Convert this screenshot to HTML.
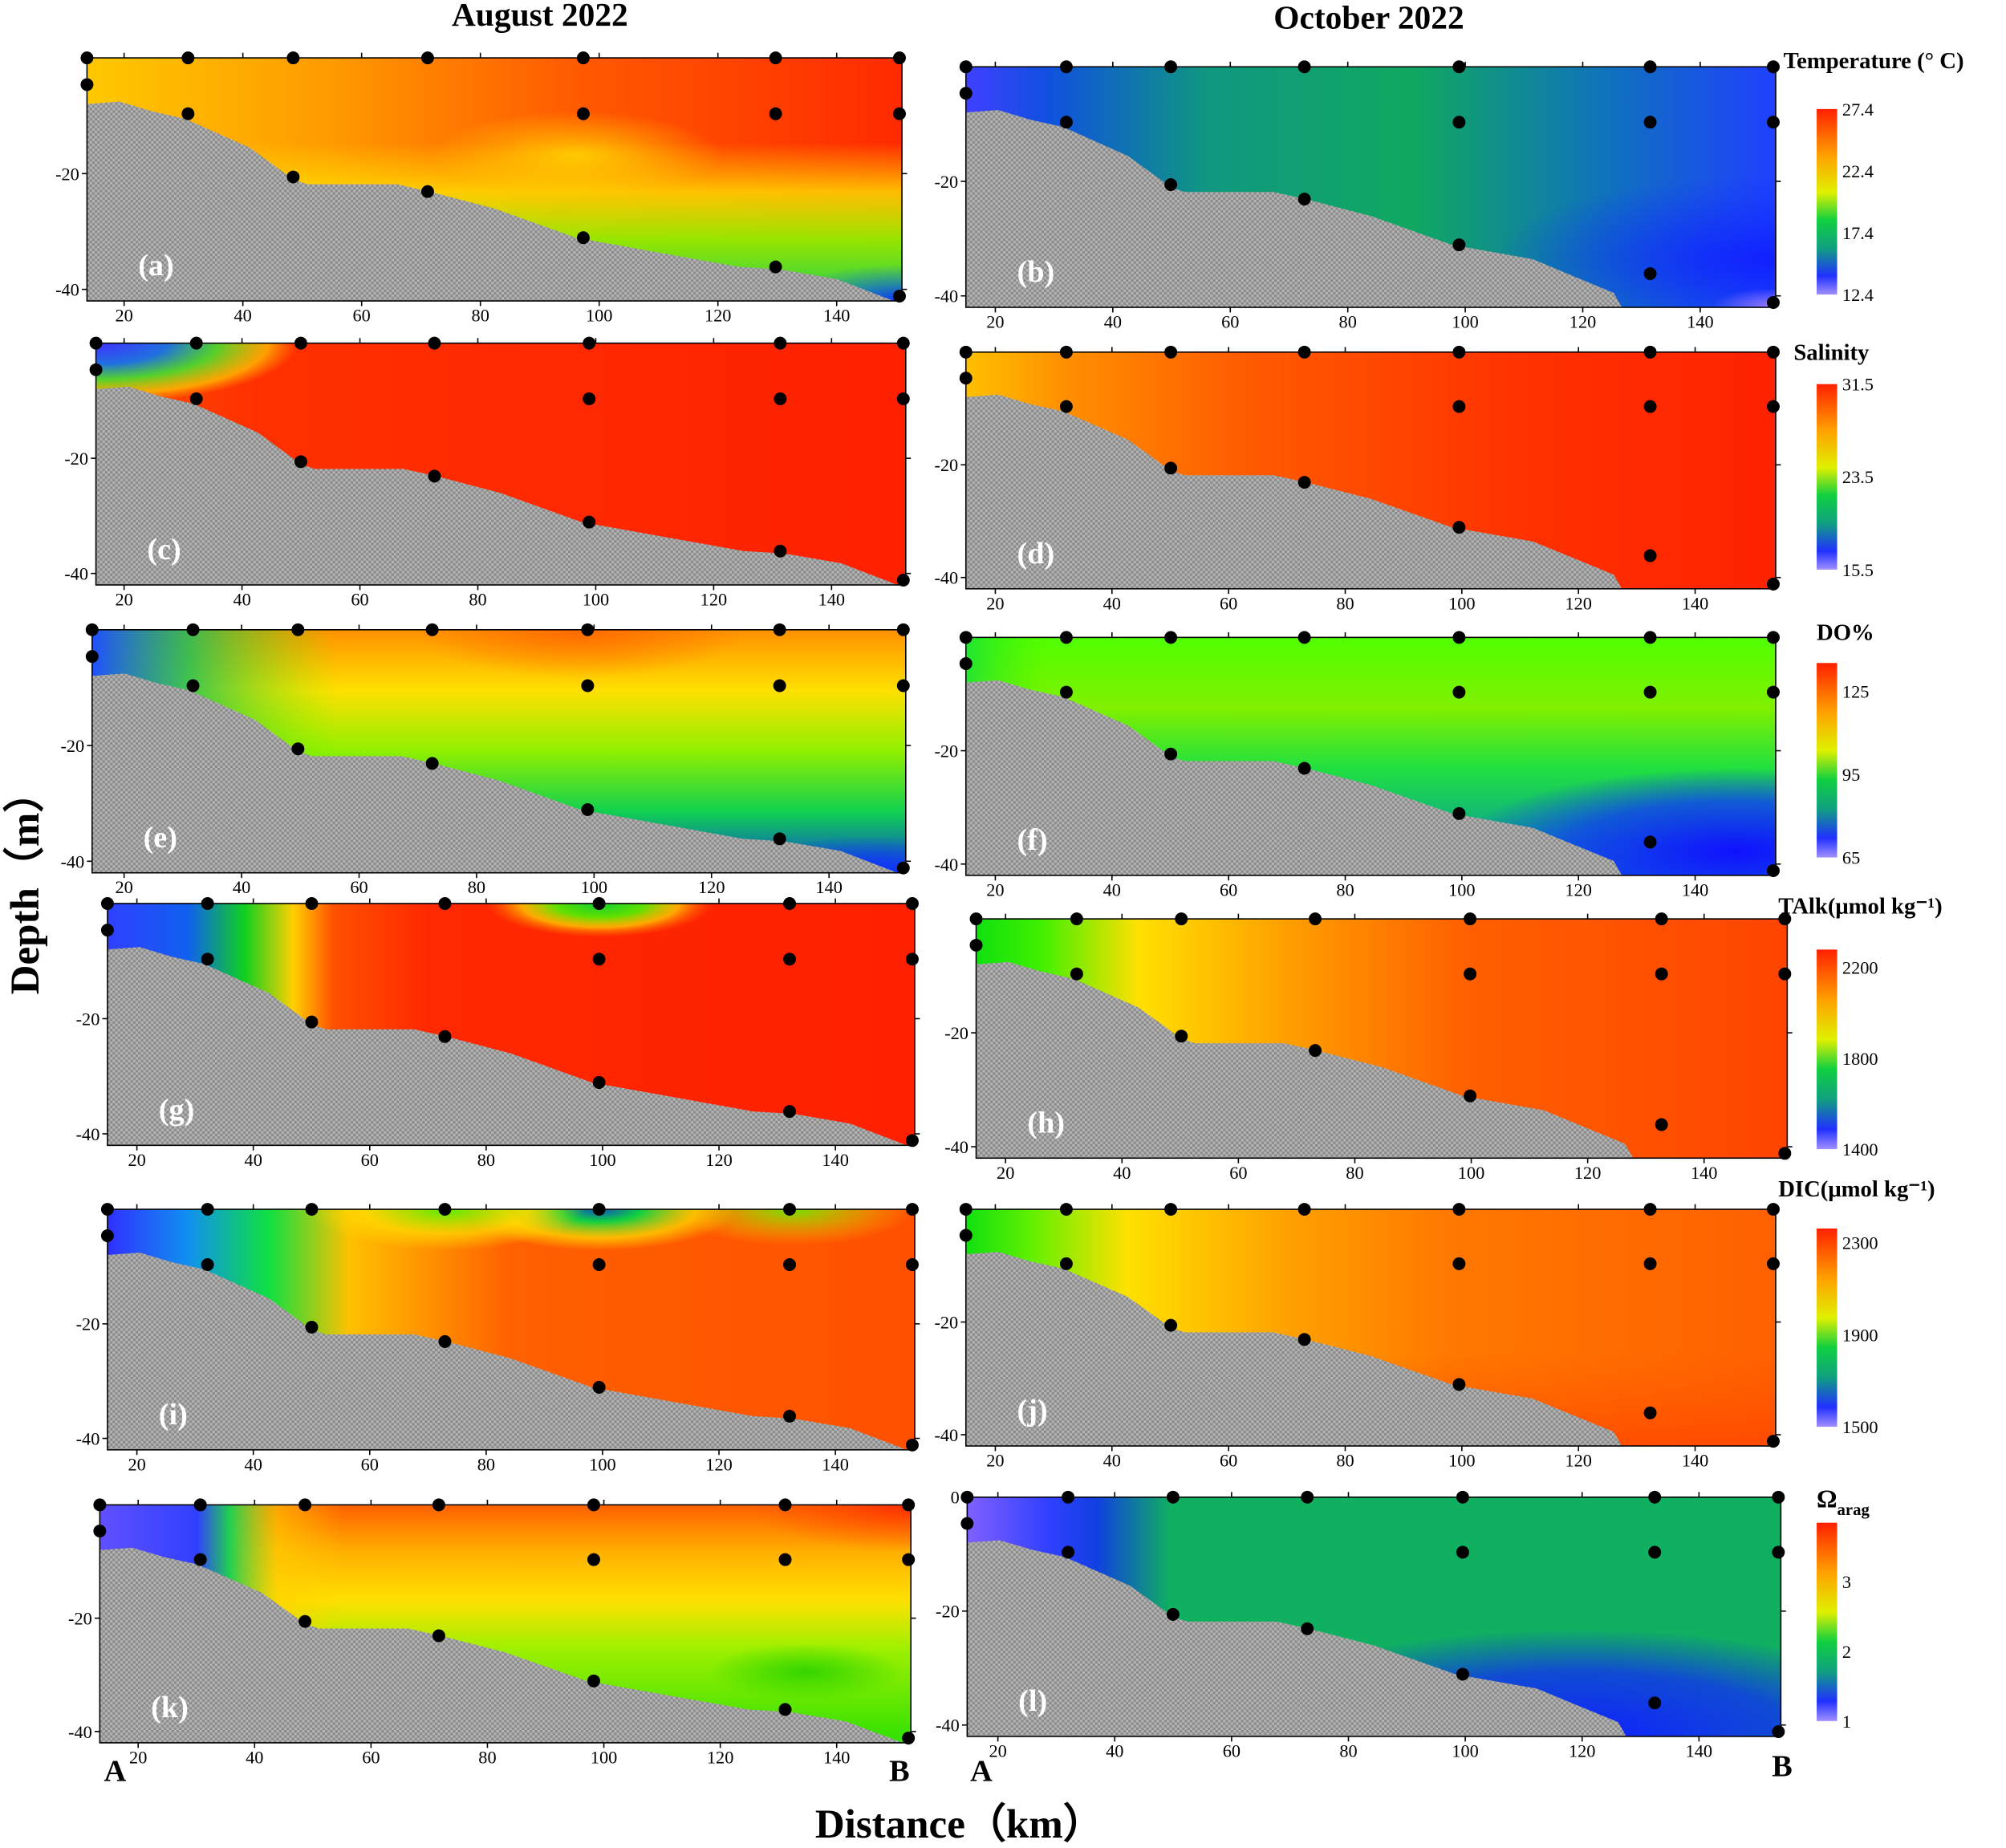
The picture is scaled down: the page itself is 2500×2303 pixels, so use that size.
<!DOCTYPE html>
<html><head><meta charset="utf-8">
<style>html,body{margin:0;padding:0;background:#fff;}svg{display:block}</style>
</head><body>
<svg id="s" xmlns="http://www.w3.org/2000/svg" width="2500" height="2303" viewBox="0 0 1568 1444" font-family="Liberation Serif, serif">
<defs>
<pattern id="gp" width="4" height="4" patternUnits="userSpaceOnUse"><rect width="4" height="4" fill="#8a8a8a"/><rect width="2" height="2" fill="#b4b4b4"/><rect x="2" y="2" width="2" height="2" fill="#b4b4b4"/></pattern>
</defs>
<g id="g"></g>
</svg>
<script>
const NS="http://www.w3.org/2000/svg";
const svg=document.getElementById('s'),defs=svg.querySelector('defs'),G=document.getElementById('g');
function el(t,a,p){const e=document.createElementNS(NS,t);for(const k in a)e.setAttribute(k,a[k]);(p||G).appendChild(e);return e;}
function grad(id,stops,vert,extra){const g=el('linearGradient',Object.assign({id:id,x1:0,y1:0,x2:vert?0:1,y2:vert?1:0},extra||{}),defs);
 stops.forEach(s=>el('stop',{offset:s[0],'stop-color':s[1],'stop-opacity':s[2]===undefined?1:s[2]},g));}
function rgrad(id,cx,cy,r,stops){const g=el('radialGradient',{id:id,cx:cx,cy:cy,r:r},defs);
 stops.forEach(s=>el('stop',{offset:s[0],'stop-color':s[1],'stop-opacity':s[2]===undefined?1:s[2]},g));}
const P=[
 {l:'a',x0:68,x1:705,y0:45,y1:235,t20:97,t140:654,left:1,L:[['h',[[0,'#ffc800'],[0.3,'#ff9a00'],[0.6,'#ff5a00'],[1,'#ff2a00']]],['v',[[0,'#fff',0],[0.35,'#ffe000',0],[0.55,'#ffe000',0.8],[0.75,'#90ee00',0.95],[1,'#20d050',1]]],['r',0.6,0.4,0.18,[[0,'#ffe000',0.8],[1,'#ffe000',0]]],['r',1,1,0.15,[[0,'#1030ff',1],[1,'#1060f0',0]]]]},
 {l:'b',x0:755,x1:1388,y0:52,y1:240,t20:778,t140:1329,left:0,L:[['h',[[0,'#4040ff'],[0.1,'#1050e0'],[0.3,'#109880'],[0.55,'#10a860'],[0.8,'#1070c0'],[1,'#2040ff']]],['r',0.3,0.85,0.3,[[0,'#10c040',0.9],[1,'#10c040',0]]],['r',1,0.8,0.35,[[0,'#1020ff',1],[1,'#1030ff',0]]],['r',1,1,0.08,[[0,'#a080ff',1],[1,'#a080ff',0]]]]},
 {l:'c',x0:75,x1:708,y0:268,y1:457,t20:97,t140:650,left:1,L:[['h',[[0,'#ff5000'],[0.2,'#ff3000'],[1,'#ff2000']]],['r',0,0,0.25,[[0,'#4030ff',1],[0.35,'#2070e0',1],[0.6,'#40e030',0.9],[0.85,'#ffd000',0.7],[1,'#ffb000',0]]]]},
 {l:'d',x0:755,x1:1388,y0:275,y1:460,t20:778,t140:1325,left:0,L:[['h',[[0,'#ffc000'],[0.12,'#ff9000'],[0.35,'#ff5a00'],[0.7,'#ff3000'],[1,'#ff2200']]]]},
 {l:'e',x0:72,x1:708,y0:492,y1:682,t20:97,t140:648,left:1,L:[['v',[[0,'#ff9000'],[0.25,'#ffe000'],[0.5,'#90f000'],[0.75,'#10d050'],[1,'#1040e0']]],['h',[[0,'#2050ff',1],[0.12,'#10c060',0.8],[0.3,'#60f000',0]]],['r',0.6,0,0.2,[[0,'#ff6000',0.8],[1,'#ff6000',0]]],['r',0.95,1,0.15,[[0,'#1030ff',1],[1,'#1030ff',0]]]]},
 {l:'f',x0:755,x1:1388,y0:498,y1:684,t20:778,t140:1325,left:0,L:[['v',[[0,'#50ff00'],[0.3,'#80f000'],[0.55,'#20e040'],[0.8,'#10b080'],[1,'#1060e0']]],['r',0.95,0.9,0.35,[[0,'#1010ff',1],[0.6,'#1040f0',0.8],[1,'#1040f0',0]]],['h',[[0,'#10e040',0.8],[0.1,'#40f000',0]]]]},
 {l:'g',x0:84,x1:715,y0:706,y1:895,t20:107,t140:653,left:1,L:[['h',[[0,'#3040ff'],[0.1,'#1060f0'],[0.17,'#10d020'],[0.23,'#ffd000'],[0.28,'#ff5000'],[0.4,'#ff2800'],[1,'#ff2000']]],['r',0.61,0,0.14,[[0,'#10d030',1],[0.4,'#60e000',1],[0.7,'#ffe000',0.7],[1,'#ff8000',0]]]]},
 {l:'h',x0:763,x1:1397,y0:718,y1:905,t20:786,t140:1332,left:0,L:[['h',[[0,'#10e010'],[0.08,'#40f000'],[0.2,'#ffe000'],[0.38,'#ffa000'],[0.6,'#ff6000'],[1,'#ff4400']]]]},
 {l:'i',x0:84,x1:715,y0:945,y1:1133,t20:107,t140:653,left:1,L:[['h',[[0,'#3030ff'],[0.1,'#1090f0'],[0.2,'#10e040'],[0.3,'#ffc000'],[0.5,'#ff6000'],[1,'#ff5000']]],['r',0.61,0,0.17,[[0,'#1050c0',1],[0.3,'#10d040',1],[0.7,'#ffe000',0.7],[1,'#ffe000',0]]],['r',0.42,0,0.17,[[0,'#50f000',1],[0.6,'#ffe000',0.7],[1,'#ffe000',0]]],['r',0.85,0,0.15,[[0,'#60f000',0.9],[1,'#ffe000',0]]]]},
 {l:'j',x0:755,x1:1388,y0:945,y1:1130,t20:778,t140:1325,left:0,L:[['h',[[0,'#10e010'],[0.08,'#60f000'],[0.2,'#ffe000'],[0.4,'#ffa000'],[0.6,'#ff7800'],[1,'#ff6000']]],['v',[[0,'#fff',0],[0.6,'#ff5000',0],[1,'#ff4000',0.7]]]]},
 {l:'k',x0:78,x1:712,y0:1176,y1:1362,t20:108,t140:654,left:1,L:[['v',[[0,'#ff6000'],[0.2,'#ffb000'],[0.4,'#ffe000'],[0.6,'#a0f000'],[1,'#30e000']]],['h',[[0,'#6050ff',1],[0.12,'#3040ff',1],[0.16,'#20d050',1],[0.22,'#ffd000',0.6],[0.3,'#ffd000',0]]],['r',0.87,0.7,0.12,[[0,'#20d000',0.8],[1,'#20d000',0]]],['r',1,0,0.2,[[0,'#ff2000',0.8],[1,'#ff4000',0]]]]},
 {l:'l',x0:756,x1:1392,y0:1170,y1:1357,t20:780,t140:1328,left:0,L:[['h',[[0,'#8060ff'],[0.1,'#3040ff'],[0.16,'#1040e0'],[0.25,'#10b060'],[1,'#10b060']]],['r',0.75,1,0.45,[[0,'#1020ff',1],[0.6,'#1040e0',0.9],[1,'#1040e0',0]]]]}
];
const ST=[[0,[0,0.11]],[0.124,[0,0.23]],[0.253,[0,0.49]],[0.418,[0,0.55]],[0.609,[0,0.23,0.74]],[0.845,[0,0.23,0.86]],[0.997,[0,0.23,0.98]]];
const BL=[[0,0.19],[0.04,0.18],[0.08,0.22],[0.12,0.25],[0.2,0.37],[0.253,0.5],[0.27,0.52],[0.38,0.52],[0.42,0.55],[0.5,0.62],[0.6,0.74]];
const BL_L=BL.concat([[0.7,0.8],[0.8,0.86],[0.85,0.87],[0.92,0.91],[0.99,1]]);
const BL_R=BL.concat([[0.7,0.8],[0.75,0.87],[0.8,0.94],[0.81,1]]);
P.forEach(p=>{
 const w=p.x1-p.x0,h=p.y1-p.y0;
 p.L.forEach((ly,i)=>{const id='g'+p.l+i;
  if(ly[0]=='r'){rgrad(id,ly[1],ly[2],ly[3],ly[4]);}else grad(id,ly[1],ly[0]=='v');
  el('rect',{x:p.x0,y:p.y0,width:w,height:h,fill:'url(#'+id+')'});});
 const bl=p.left?BL_L:BL_R;
 let pts=bl.map(q=>(p.x0+q[0]*w).toFixed(1)+','+(p.y0+q[1]*h).toFixed(1)).join(' ');
 pts+=' '+p.x0+','+p.y1;
 el('polygon',{points:pts,fill:'url(#gp)'});
 el('rect',{x:p.x0,y:p.y0,width:w,height:h,fill:'none',stroke:'#000','stroke-width':1});
 const k=(p.t140-p.t20)/120;
 for(let d=20;d<=140;d+=20){const x=p.t20+(d-20)*k;
  el('line',{x1:x,y1:p.y1,x2:x,y2:p.y1+4,stroke:'#000'});el('line',{x1:x,y1:p.y0,x2:x,y2:p.y0-4,stroke:'#000'});
  const t=el('text',{x:x,y:p.y1+16,'font-size':14,'text-anchor':'middle'});t.textContent=d;}
 [[-20,20/42],[-40,40/42]].forEach(q=>{const y=p.y0+q[1]*h;
  el('line',{x1:p.x0-4,y1:y,x2:p.x0,y2:y,stroke:'#000'});el('line',{x1:p.x1,y1:y,x2:p.x1+4,y2:y,stroke:'#000'});
  const t=el('text',{x:p.x0-6,y:y+5,'font-size':14,'text-anchor':'end'});t.textContent=q[0];});
 if(p.l=='l'){const t=el('text',{x:p.x0-6,y:p.y0+5,'font-size':14,'text-anchor':'end'});t.textContent='0';}
 ST.forEach(s=>s[1].forEach(v=>el('circle',{cx:p.x0+s[0]*w,cy:p.y0+v*h,r:5,fill:'#000'})));
 const t=el('text',{x:p.x0+40,y:p.y1-20,'font-size':24,'font-weight':'bold',fill:'#fff'});t.textContent='('+p.l+')';
});
const CB=[['Temperature (° C)',85,230,['27.4','22.4','17.4','12.4'],47],['Salinity',300,445,['31.5','23.5','15.5'],275],['DO%',518,670,['125','95','65'],494],
['TAlk(μmol kg⁻¹)',742,898,['2200','1800','1400'],708],['DIC(μmol kg⁻¹)',960,1115,['2300','1900','1500'],929],['Ω',1190,1345,['3','2','1'],1172]];
grad('cbg',[[0,'#ff2000'],[0.25,'#ffa000'],[0.45,'#e0f000'],[0.6,'#10d040'],[0.75,'#10a080'],[0.9,'#2030ff'],[1,'#a090ff']],true);
CB.forEach((c,i)=>{
 el('rect',{x:1420,y:c[1],width:16,height:c[2]-c[1],fill:'url(#cbg)'});
 const n=c[3].length;
 c[3].forEach((s,j)=>{let y;
  if(n==4)y=c[1]+j*(c[2]-c[1])/3;else y=c[1]+(i==2?22:i==3?14:i==4?11:i==5?46:0)+j*((c[2]-c[1])-(i==2?22:i==3?14:i==4?11:i==5?46:0))/2;
  const t=el('text',{x:1440,y:y+5,'font-size':14});t.textContent=s;});
 if(i==5){const t=el('text',{x:1420,y:c[4]+6,'font-size':20,'font-weight':'bold'});t.textContent='Ω';const u=el('text',{x:1436,y:c[4]+12,'font-size':13,'font-weight':'bold'});u.textContent='arag';}
 else{const t=el('text',{x:i==0?1394:(i==1?1402:(i==2?1420:1390)),y:c[4]+6,'font-size':18,'font-weight':'bold'});t.textContent=c[0];}
});
function tx(s,x,y,fs,a){const t=el('text',Object.assign({x:x,y:y,'font-size':fs,'font-weight':'bold','text-anchor':'middle'},a||{}));t.textContent=s;return t;}
tx('August 2022',422,20,26);tx('October 2022',1070,22,26);
tx('Depth（m）',0,0,32,{transform:'translate(30,690) rotate(-90)'});
tx('Distance（km）',750,1436,32);
tx('A',90,1392,24);tx('B',703,1392,24);tx('A',767,1392,24);tx('B',1393,1388,24);
</script>
</body></html>
